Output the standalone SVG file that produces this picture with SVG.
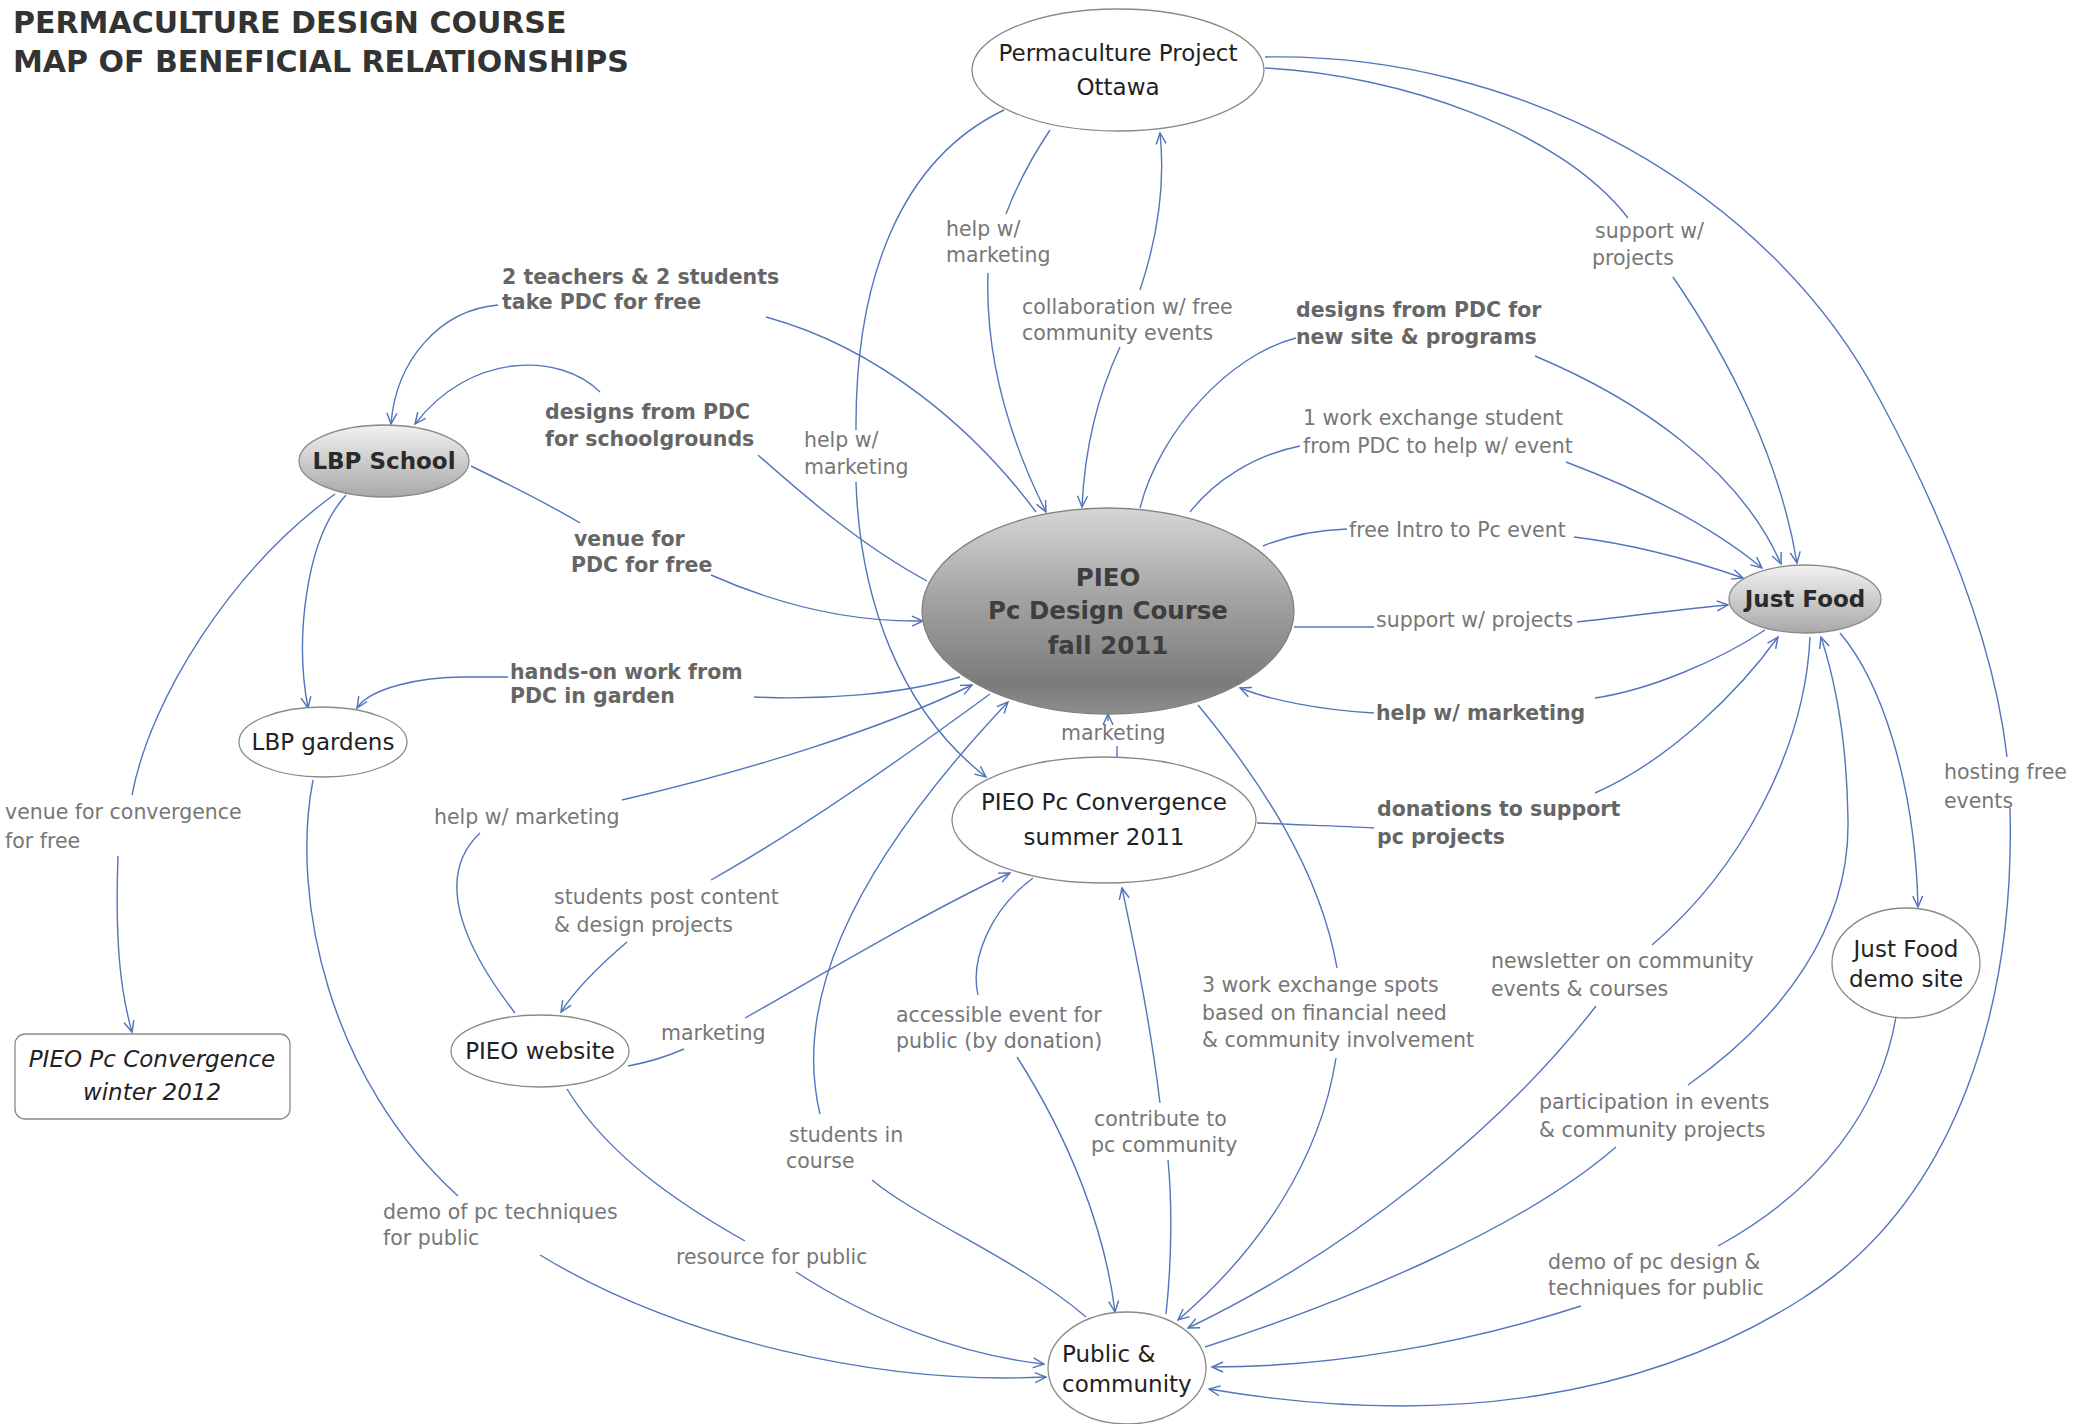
<svg xmlns="http://www.w3.org/2000/svg" width="2074" height="1424" viewBox="0 0 2074 1424">
<defs>
<linearGradient id="gDark" x1="0" y1="0" x2="0" y2="1">
<stop offset="0" stop-color="#d6d6d6"/>
<stop offset="0.45" stop-color="#a2a2a2"/>
<stop offset="0.85" stop-color="#7b7b7b"/>
<stop offset="1" stop-color="#8e8e8e"/>
</linearGradient>
<linearGradient id="gLight" x1="0" y1="0" x2="0" y2="1">
<stop offset="0" stop-color="#f2f2f2"/>
<stop offset="1" stop-color="#a8a8a8"/>
</linearGradient>
<marker id="ah" viewBox="-13 -7 15 14" refX="0" refY="0" markerWidth="15" markerHeight="14" markerUnits="userSpaceOnUse" orient="auto">
<path d="M-11,-5 L0,0 L-11,5" fill="none" stroke="#4f72b8" stroke-width="1.4"/>
</marker>
<marker id="ahs" viewBox="-13 -7 15 14" refX="0" refY="0" markerWidth="15" markerHeight="14" markerUnits="userSpaceOnUse" orient="auto-start-reverse">
<path d="M-11,-5 L0,0 L-11,5" fill="none" stroke="#4f72b8" stroke-width="1.4"/>
</marker>
<style>
.e{fill:none;stroke:#5276bb;stroke-width:1.4}
.a{marker-end:url(#ah)}
.s{marker-start:url(#ahs)}
.lb{font-family:"DejaVu Sans","Liberation Sans",sans-serif;font-size:20.5px;fill:#777}
.lbb{font-family:"DejaVu Sans","Liberation Sans",sans-serif;font-size:20.5px;font-weight:bold;fill:#666}
.nt{font-family:"DejaVu Sans","Liberation Sans",sans-serif;font-size:23px;fill:#222;text-anchor:middle}
.nl{font-family:"DejaVu Sans","Liberation Sans",sans-serif;font-size:23px;fill:#222;text-anchor:start}
.ni{font-family:"DejaVu Sans","Liberation Sans",sans-serif;font-size:23px;fill:#222;text-anchor:middle;font-style:italic}
.nb{font-family:"DejaVu Sans","Liberation Sans",sans-serif;font-size:23px;font-weight:bold;fill:#2a2a2a;text-anchor:middle}
.nc{font-family:"DejaVu Sans","Liberation Sans",sans-serif;font-size:24.5px;font-weight:bold;fill:#3e3e3e;text-anchor:middle}
.wn{fill:#fff;stroke:#8a8a8a;stroke-width:1.3}
.ttl{font-family:"DejaVu Sans","Liberation Sans",sans-serif;font-size:30px;font-weight:bold;fill:#333}
</style>
</defs>
<rect width="2074" height="1424" fill="#fff"/>

<g id="title">
<text class="ttl" x="13" y="33">PERMACULTURE DESIGN COURSE</text>
<text class="ttl" x="13" y="72">MAP OF BENEFICIAL RELATIONSHIPS</text>
</g>

<g id="connectors">
<!-- PIEO -> LBP School: 2 teachers -->
<path class="e" d="M1036 512 C975 430 880 348 766 317"/>
<path class="e a" d="M498 305 C440 310 396 360 391 424"/>
<!-- PIEO -> LBP School: designs schoolgrounds -->
<path class="e" d="M758 455 C800 492 860 545 927 581"/>
<path class="e a" d="M600 392 C560 352 470 352 415 424"/>
<!-- LBP School -> PIEO: venue -->
<path class="e" d="M471 466 C510 485 550 505 580 523"/>
<path class="e a" d="M711 575 C790 610 860 622 923 621"/>
<!-- PIEO -> LBP gardens: hands-on -->
<path class="e" d="M960 677 C900 695 820 700 754 697"/>
<path class="e a" d="M508 677 L464 677 C420 677 370 688 357 708"/>
<!-- LBP School -> LBP gardens -->
<path class="e a" d="M346 495 C305 540 295 640 308 708"/>
<!-- LBP School -> winter 2012 -->
<path class="e" d="M335 494 C230 570 150 700 132 795"/>
<path class="e a" d="M118 856 C115 940 120 990 132 1032"/>
<!-- LBP gardens -> Public: demo of pc techniques -->
<path class="e" d="M313 780 C290 900 330 1080 458 1196"/>
<path class="e a" d="M540 1255 C680 1340 880 1385 1046 1377"/>
<!-- website -> Public: resource -->
<path class="e" d="M567 1089 C610 1160 690 1210 745 1241"/>
<path class="e a" d="M796 1272 C870 1320 960 1355 1044 1364"/>
<!-- website -> PIEO: help w/ marketing -->
<path class="e" d="M515 1013 C470 955 430 880 480 833"/>
<path class="e a" d="M622 800 C750 770 880 730 972 685"/>
<!-- PIEO -> website: students post content -->
<path class="e" d="M990 694 C900 760 800 830 711 880"/>
<path class="e a" d="M627 942 C600 965 575 990 561 1012"/>
<!-- website -> Convergence: marketing -->
<path class="e" d="M628 1066 C650 1062 668 1056 684 1049"/>
<path class="e a" d="M745 1018 C830 970 930 910 1010 873"/>
<!-- Convergence -> PIEO: marketing -->
<path class="e" d="M1117 757 L1117 746"/>
<path class="e a" d="M1108 721 L1108 714"/>
<!-- Convergence -> Just Food: donations -->
<path class="e" d="M1257 823 C1300 825 1340 826 1374 828"/>
<path class="e a" d="M1595 793 C1670 760 1740 690 1778 637"/>
<!-- Just Food -> PIEO: help w/ marketing -->
<path class="e" d="M1765 630 C1720 660 1650 690 1595 698"/>
<path class="e a" d="M1374 713 C1320 710 1270 700 1240 688"/>
<!-- PIEO -> Just Food: support w/ projects -->
<path class="e" d="M1294 627 L1374 627"/>
<path class="e a" d="M1577 622 C1640 615 1690 608 1728 605"/>
<!-- PIEO -> Just Food: free intro -->
<path class="e" d="M1263 546 C1290 535 1320 530 1347 529"/>
<path class="e a" d="M1574 537 C1640 545 1700 563 1743 578"/>
<!-- PIEO -> Just Food: 1 work exchange -->
<path class="e" d="M1190 512 C1215 480 1255 455 1300 446"/>
<path class="e a" d="M1566 462 C1640 490 1710 525 1762 568"/>
<!-- PIEO -> Just Food: designs new site -->
<path class="e" d="M1140 508 C1160 430 1230 355 1296 338"/>
<path class="e a" d="M1535 356 C1640 400 1740 470 1781 564"/>
<!-- Ottawa -> Just Food: support w/ projects -->
<path class="e" d="M1265 68 C1400 75 1560 130 1628 218"/>
<path class="e a" d="M1673 277 C1730 360 1780 460 1797 563"/>
<!-- Ottawa -> Public: hosting free events -->
<path class="e" d="M1265 57 C1520 52 1770 190 1880 400 C1950 530 1995 650 2007 757"/>
<path class="e a" d="M2010 808 C2015 1000 1960 1200 1800 1300 C1650 1395 1450 1430 1209 1389"/>
<!-- Ottawa -> PIEO: help w/ marketing -->
<path class="e" d="M1050 130 C1030 160 1015 190 1006 214"/>
<path class="e a" d="M988 273 C985 360 1010 440 1046 512"/>
<!-- PIEO <-> Ottawa: collaboration -->
<path class="e s" d="M1082 507 C1085 440 1100 390 1120 347"/>
<path class="e a" d="M1140 290 C1160 230 1165 180 1160 133"/>
<!-- Ottawa -> Convergence: help w/ marketing -->
<path class="e" d="M1004 110 C900 160 855 280 856 430"/>
<path class="e a" d="M856 482 C860 600 900 710 986 777"/>
<!-- Public -> Convergence: contribute -->
<path class="e" d="M1166 1314 C1172 1260 1172 1200 1168 1160"/>
<path class="e a" d="M1160 1103 C1150 1020 1135 950 1122 888"/>
<!-- Convergence -> Public: accessible event -->
<path class="e" d="M1033 878 C990 910 970 960 978 995"/>
<path class="e a" d="M1017 1057 C1070 1140 1105 1230 1115 1312"/>
<!-- PIEO -> Public: 3 work exchange spots -->
<path class="e" d="M1198 705 C1260 780 1320 870 1337 968"/>
<path class="e a" d="M1336 1058 C1320 1160 1260 1250 1178 1320"/>
<!-- Just Food -> Public: newsletter -->
<path class="e" d="M1810 637 C1805 750 1740 870 1652 945"/>
<path class="e a" d="M1596 1006 C1500 1130 1350 1250 1188 1328"/>
<!-- Public -> Just Food: participation -->
<path class="e" d="M1205 1347 C1350 1300 1520 1230 1616 1147"/>
<path class="e a" d="M1688 1085 C1780 1020 1850 930 1848 820 C1847 740 1835 680 1821 637"/>
<!-- Just Food -> demo site -->
<path class="e a" d="M1840 633 C1880 680 1915 780 1918 907"/>
<!-- demo site -> Public -->
<path class="e" d="M1896 1017 C1880 1110 1820 1190 1718 1246"/>
<path class="e a" d="M1581 1306 C1460 1345 1330 1367 1212 1367"/>
<!-- Public -> PIEO: students in course -->
<path class="e" d="M1086 1317 C1020 1260 920 1220 872 1180"/>
<path class="e a" d="M820 1114 C795 1010 840 880 1008 702"/>
</g>

<g id="labels">
<text class="lbb" x="502" y="284">2 teachers &amp; 2 students</text>
<text class="lbb" x="502" y="309">take PDC for free</text>
<text class="lbb" x="545" y="419">designs from PDC</text>
<text class="lbb" x="545" y="446">for schoolgrounds</text>
<text class="lbb" x="574" y="546">venue for</text>
<text class="lbb" x="571" y="572">PDC for free</text>
<text class="lbb" x="510" y="679">hands-on work from</text>
<text class="lbb" x="510" y="703">PDC in garden</text>
<text class="lb" x="434" y="824">help w/ marketing</text>
<text class="lb" x="554" y="904">students post content</text>
<text class="lb" x="554" y="932">&amp; design projects</text>
<text class="lb" x="661" y="1040">marketing</text>
<text class="lb" x="804" y="447">help w/</text>
<text class="lb" x="804" y="474">marketing</text>
<text class="lb" x="946" y="236">help w/</text>
<text class="lb" x="946" y="262">marketing</text>
<text class="lb" x="1022" y="314">collaboration w/ free</text>
<text class="lb" x="1022" y="340">community events</text>
<text class="lbb" x="1296" y="317">designs from PDC for</text>
<text class="lbb" x="1296" y="344">new site &amp; programs</text>
<text class="lb" x="1303" y="425">1 work exchange student</text>
<text class="lb" x="1303" y="453">from PDC to help w/ event</text>
<text class="lb" x="1595" y="238">support w/</text>
<text class="lb" x="1592" y="265">projects</text>
<text class="lb" x="1349" y="537">free Intro to Pc event</text>
<text class="lb" x="1376" y="627">support w/ projects</text>
<text class="lbb" x="1376" y="720">help w/ marketing</text>
<text class="lbb" x="1377" y="816">donations to support</text>
<text class="lbb" x="1377" y="844">pc projects</text>
<text class="lb" x="1061" y="740">marketing</text>
<text class="lb" x="1944" y="779">hosting free</text>
<text class="lb" x="1944" y="808">events</text>
<text class="lb" x="5" y="819">venue for convergence</text>
<text class="lb" x="5" y="848">for free</text>
<text class="lb" x="896" y="1022">accessible event for</text>
<text class="lb" x="896" y="1048">public (by donation)</text>
<text class="lb" x="1202" y="992">3 work exchange spots</text>
<text class="lb" x="1202" y="1020">based on financial need</text>
<text class="lb" x="1202" y="1047">&amp; community involvement</text>
<text class="lb" x="1491" y="968">newsletter on community</text>
<text class="lb" x="1491" y="996">events &amp; courses</text>
<text class="lb" x="1094" y="1126">contribute to</text>
<text class="lb" x="1091" y="1152">pc community</text>
<text class="lb" x="789" y="1142">students in</text>
<text class="lb" x="786" y="1168">course</text>
<text class="lb" x="1539" y="1109">participation in events</text>
<text class="lb" x="1539" y="1137">&amp; community projects</text>
<text class="lb" x="383" y="1219">demo of pc techniques</text>
<text class="lb" x="383" y="1245">for public</text>
<text class="lb" x="676" y="1264">resource for public</text>
<text class="lb" x="1548" y="1269">demo of pc design &amp;</text>
<text class="lb" x="1548" y="1295">techniques for public</text>
</g>

<g id="node-ottawa">
<ellipse class="wn" cx="1118" cy="70" rx="146" ry="61"/>
<text class="nt" x="1118" y="61">Permaculture Project</text>
<text class="nt" x="1118" y="95">Ottawa</text>
</g>
<g id="node-pieo-pdc">
<ellipse cx="1108" cy="611" rx="186" ry="103" fill="url(#gDark)" stroke="#808080" stroke-width="1.3"/>
<text class="nc" x="1108" y="586">PIEO</text>
<text class="nc" x="1108" y="619">Pc Design Course</text>
<text class="nc" x="1108" y="654">fall 2011</text>
</g>
<g id="node-lbp-school">
<ellipse cx="384" cy="461" rx="85" ry="36" fill="url(#gLight)" stroke="#8a8a8a" stroke-width="1.3"/>
<text class="nb" x="384" y="469">LBP School</text>
</g>
<g id="node-just-food">
<ellipse cx="1805" cy="599" rx="76" ry="34" fill="url(#gLight)" stroke="#8a8a8a" stroke-width="1.3"/>
<text class="nb" x="1805" y="607">Just Food</text>
</g>
<g id="node-lbp-gardens">
<ellipse class="wn" cx="323" cy="742" rx="84" ry="35"/>
<text class="nt" x="323" y="750">LBP gardens</text>
</g>
<g id="node-convergence-summer">
<ellipse class="wn" cx="1104" cy="820" rx="152" ry="63"/>
<text class="nt" x="1104" y="810">PIEO Pc Convergence</text>
<text class="nt" x="1104" y="845">summer 2011</text>
</g>
<g id="node-website">
<ellipse class="wn" cx="540" cy="1051" rx="89" ry="36"/>
<text class="nt" x="540" y="1059">PIEO website</text>
</g>
<g id="node-convergence-winter">
<rect class="wn" x="15" y="1034" width="275" height="85" rx="10"/>
<text class="ni" x="152" y="1067">PIEO Pc Convergence</text>
<text class="ni" x="152" y="1100">winter 2012</text>
</g>
<g id="node-demo-site">
<ellipse class="wn" cx="1906" cy="963" rx="74" ry="55"/>
<text class="nt" x="1906" y="957">Just Food</text>
<text class="nt" x="1906" y="987">demo site</text>
</g>
<g id="node-public">
<ellipse class="wn" cx="1127" cy="1368" rx="79" ry="56"/>
<text class="nl" x="1062" y="1362">Public &amp;</text>
<text class="nl" x="1062" y="1392">community</text>
</g>
</svg>
